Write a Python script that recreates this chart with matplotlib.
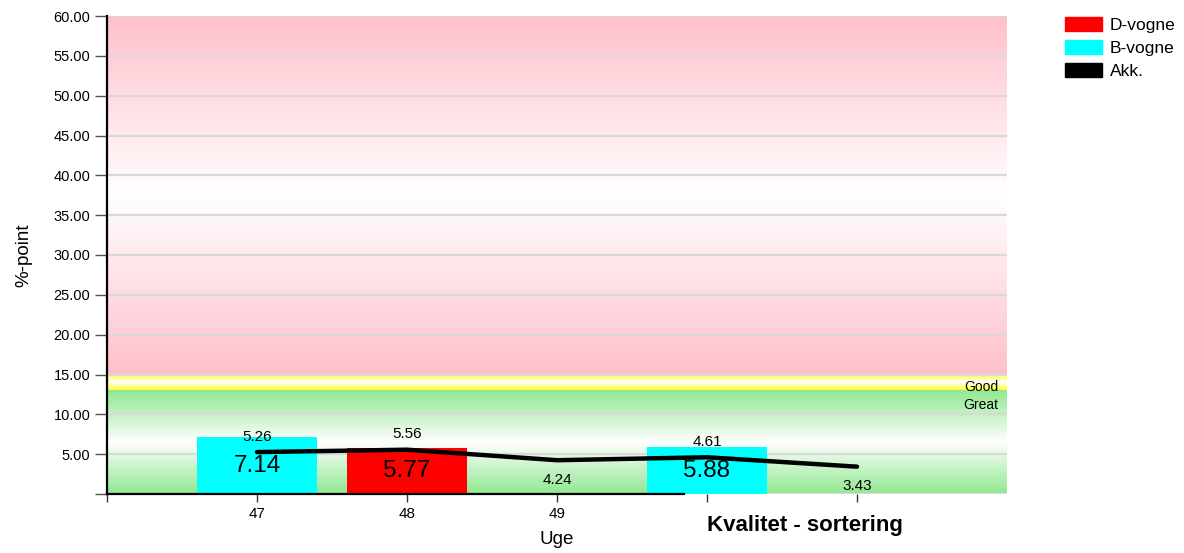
import numpy as np
import matplotlib
matplotlib.use("Agg")
import matplotlib.pyplot as plt
from matplotlib.colors import LinearSegmentedColormap
from matplotlib.patches import Patch

plt.rcParams["font.family"] = ["Liberation Sans", "DejaVu Sans"]

# data
weeks = ["47", "48", "49", "", ""]
d_vogne = [np.nan, 5.77, np.nan, np.nan, np.nan]
b_vogne = [7.14, np.nan, np.nan, 5.88, np.nan]
akk = [5.26, 5.56, 4.24, 4.61, 3.43]
yticks = [5, 10, 15, 20, 25, 30, 35, 40, 45, 50, 55, 60]

# quality bands (lower, upper, edge colour)
bands = [(0, 13, "#90e890"), (13, 15, "#ffff30"), (15, 60, "#ffc0cb")]

fig = plt.figure(figsize=(11.84, 5.53), dpi=100)
ax = fig.add_axes([107 / 1184, 59 / 553, 900 / 1184, 478 / 553])

x = np.arange(1, len(weeks) + 1)
ax.set_xlim(0, 6)
ax.set_ylim(0, 60)

# background bands, fading to white in the middle of each one
grad = np.abs(np.linspace(-1, 1, 256)).reshape(-1, 1)
for lo, hi, col in bands:
    cmap = LinearSegmentedColormap.from_list("b", ["white", col])
    ax.imshow(grad, extent=[0, 6, lo, hi], aspect="auto", cmap=cmap,
              vmin=0, vmax=1, zorder=0, interpolation="bilinear")

ax.set_yticks(yticks + [0])
ax.set_yticklabels([f"{v:.2f}" for v in yticks] + [""])
ax.yaxis.grid(True, color="#d9d9d9", linewidth=1.6, zorder=1)
ax.set_axisbelow(True)

b1 = ax.bar(x, d_vogne, width=0.8, color="#ff0000", zorder=2)
b2 = ax.bar(x, b_vogne, width=0.8, color="#00ffff", zorder=2)
for bars, vals in [(b1, d_vogne), (b2, b_vogne)]:
    ax.bar_label(bars, labels=["" if np.isnan(v) else f"{v:.2f}" for v in vals],
                 label_type="center", fontsize=17.5, zorder=4)

ax.plot(x, akk, color="black", linewidth=3.2, solid_capstyle="round",
        solid_joinstyle="round", zorder=3)
for i, v in enumerate(akk):
    below = i > 0 and v < akk[i - 1]
    ax.annotate(f"{v:.2f}", (x[i], v), xytext=(0, -14 if below else 11),
                textcoords="offset points", ha="center", va="center",
                fontsize=11, zorder=4)

ax.text(5.94, 13.4, "Good", ha="right", va="center", fontsize=10)
ax.text(5.94, 11.2, "Great", ha="right", va="center", fontsize=10)

ax.set_xticks([0] + list(x))
ax.set_xticklabels([""] + weeks)
ax.tick_params(axis="x", length=6, width=1, color="#333333", pad=3,
               labelsize=11)
ax.tick_params(axis="y", length=9, width=1, color="#555555", pad=3,
               labelsize=10.5)
for t in ax.xaxis.get_major_ticks()[4:]:
    t.tick1line.set_color("#cccccc")

for s in ["top", "right"]:
    ax.spines[s].set_visible(False)
ax.spines["left"].set_linewidth(1.6)
ax.spines["bottom"].set_linewidth(1.6)
ax.spines["bottom"].set_bounds(0, 3.85)

ax.set_ylabel("%-point", fontsize=13.5, va="center")
ax.yaxis.set_label_coords(-83 / 900, 0.5)
ax.set_xlabel("Uge", fontsize=13.5, va="center")
ax.xaxis.set_label_coords(0.5, -46 / 478)

fig.text(805 / 1184, 1 - 525 / 553, "Kvalitet - sortering", ha="center",
         va="center", fontsize=16, fontweight="bold")

handles = [Patch(color="#ff0000"), Patch(color="#00ffff"), Patch(color="black")]
fig.legend(handles, ["D-vogne", "B-vogne", "Akk."], loc="upper left",
           bbox_to_anchor=(1062 / 1184, 1 - 14 / 553), frameon=False,
           fontsize=12.5, handlelength=2.1, handleheight=0.8,
           handletextpad=0.45, labelspacing=0.42, borderpad=0.2,
           borderaxespad=0)

fig.savefig("out.png", dpi=100)
